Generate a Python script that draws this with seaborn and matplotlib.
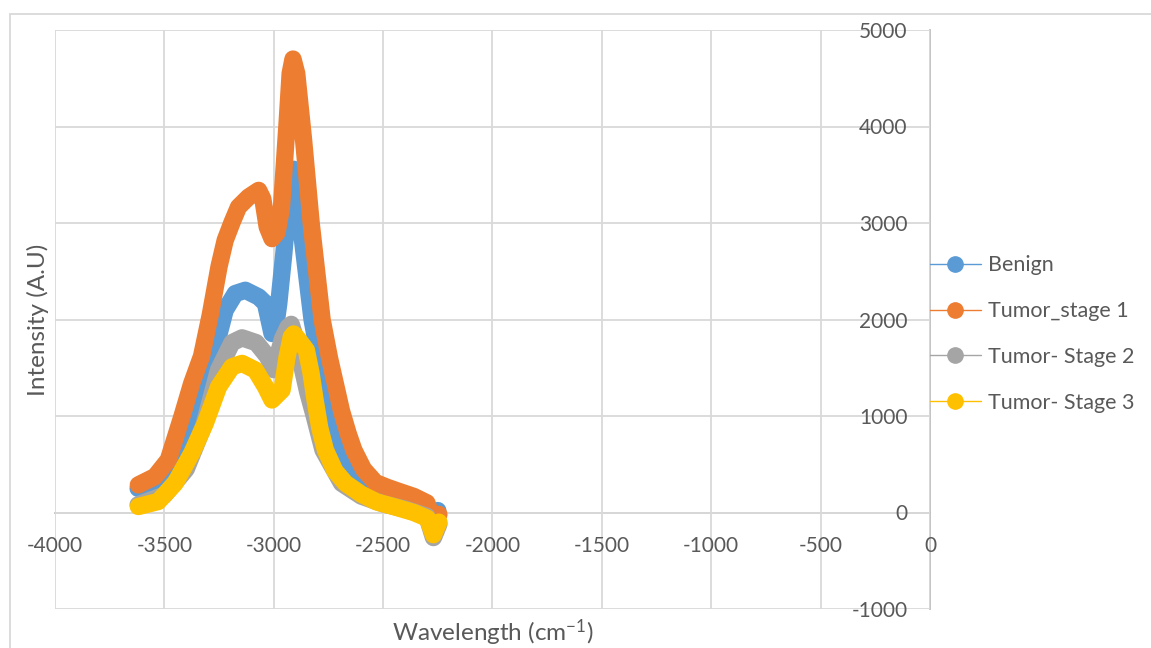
import pandas as pd
import matplotlib.pyplot as plt
import seaborn as sns
from matplotlib.lines import Line2D
from matplotlib.patches import Rectangle

series_names = ["Benign", "Tumor_stage 1", "Tumor- Stage 2", "Tumor- Stage 3"]
colors = ["#5b9bd5", "#ed7d31", "#a5a5a5", "#ffc000"]

# values (wavelength, intensity)
benign_x = [-3620, -3550, -3480, -3420, -3352, -3283, -3250, -3222, -3176, -3130, -3069,
            -3038, -3008, -2990, -2977, -2954, -2930, -2909, -2890, -2878, -2825, -2744,
            -2703, -2611, -2500, -2400, -2300, -2268, -2250]
benign_y = [250, 310, 470, 680, 924, 1476, 1850, 2097, 2269, 2303, 2234,
            2166, 1855, 1950, 2166, 2683, 3300, 3557, 3300, 3000, 2000, 1000,
            648, 303, 180, 120, 60, -120, 20]

stage1_x = [-3619, -3543, -3482, -3420, -3375, -3330, -3290, -3250, -3222, -3190, -3161,
            -3115, -3069, -3050, -3030, -3008, -2985, -2965, -2940, -2925, -2912, -2895,
            -2864, -2829, -2779, -2745, -2715, -2690, -2660, -2634, -2590, -2535, -2480,
            -2436, -2359, -2300, -2270, -2245]
stage1_y = [286, 372, 545, 993, 1338, 1620, 2050, 2550, 2821, 3010, 3166,
            3269, 3338, 3250, 2960, 2838, 2900, 3150, 4000, 4550, 4699, 4550,
            3869, 3000, 2000, 1600, 1300, 1050, 820, 648, 450, 310, 260,
            225, 166, 100, -90, -20]

stage2_x = [-3620, -3500, -3400, -3320, -3252, -3191, -3145, -3080, -3030, -3000, -2960,
            -2935, -2920, -2900, -2870, -2845, -2815, -2775, -2690, -2600, -2500, -2400,
            -2300, -2270, -2245]
stage2_y = [80, 180, 450, 900, 1480, 1760, 1810, 1760, 1620, 1480, 1800,
            1920, 1950, 1800, 1500, 1250, 1000, 648, 303, 170, 90, 35,
            -40, -260, -120]

stage3_x = [-3619, -3528, -3451, -3375, -3313, -3252, -3191, -3145, -3084, -3038, -3008,
            -2962, -2940, -2920, -2909, -2890, -2851, -2830, -2810, -2790, -2764, -2720,
            -2672, -2600, -2530, -2450, -2360, -2298, -2270, -2245]
stage3_y = [62, 114, 303, 614, 924, 1303, 1510, 1545, 1476, 1303, 1166,
            1269, 1600, 1820, 1850, 1800, 1683, 1450, 1150, 880, 648, 430,
            303, 190, 110, 60, 0, -60, -230, -100]

x_ticks = list(range(-4000, 1, 500))
y_ticks = list(range(-1000, 5001, 1000))

frames = []
for name, xs, ys in zip(series_names,
                        [benign_x, stage1_x, stage2_x, stage3_x],
                        [benign_y, stage1_y, stage2_y, stage3_y]):
    frames.append(pd.DataFrame({"wavelength": xs, "intensity": ys, "series": name}))
df = pd.concat(frames, ignore_index=True)

sns.set_theme(style="whitegrid")
plt.rcParams["font.family"] = ["Lato", "DejaVu Sans"]
plt.rcParams["mathtext.default"] = "regular"
plt.rcParams["axes.unicode_minus"] = False

grey_text = "#595959"
tick_fs = 15
legend_fs = 15.5
title_fs = 17.5

fig = plt.figure(figsize=(11.51, 6.48), dpi=100)
ax = fig.add_axes([55 / 1151, 1 - 609 / 648, 875 / 1151, 579 / 648])

sns.lineplot(data=df, x="wavelength", y="intensity", hue="series",
             hue_order=series_names, palette=colors, sort=False, estimator=None,
             legend=False, ax=ax, lw=12.5, solid_joinstyle="round",
             solid_capstyle="round")

ax.set_xlim(-4000, 0)
ax.set_ylim(-1000, 5000)
ax.set_xticks(x_ticks)
ax.set_yticks(y_ticks)
ax.grid(True, color="#d9d9d9", lw=1.3)
ax.set_facecolor("white")

for side in ["top", "right"]:
    ax.spines[side].set_visible(False)
ax.spines["left"].set_position(("data", 0))
ax.spines["bottom"].set_position(("data", 0))
for side in ["left", "bottom"]:
    ax.spines[side].set_color("#bfbfbf")
    ax.spines[side].set_linewidth(1.3)
    ax.spines[side].set_zorder(0.5)

ax.tick_params(axis="x", length=0, pad=17, labelsize=tick_fs, colors=grey_text)
ax.tick_params(axis="y", length=0, pad=16, labelsize=tick_fs, colors=grey_text)

ax.set_xlabel("Wavelength (cm$^{-1}$)", fontsize=title_fs, color=grey_text)
ax.set_ylabel("Intensity (A.U)", fontsize=title_fs, color=grey_text)
ax.xaxis.set_label_coords(0.5, -0.014)
ax.yaxis.set_label_coords(-0.007, 0.5)

handles = [Line2D([0], [0], color=c, lw=1, marker="o", markersize=11,
                  markeredgecolor=c, markerfacecolor=c) for c in colors]
fig.legend(handles, series_names, loc="center left",
           bbox_to_anchor=(930 / 1151, 1 - 334 / 648), frameon=False,
           fontsize=legend_fs, labelcolor=grey_text, handlelength=2.35,
           handletextpad=0.35, labelspacing=1.2, borderpad=0, borderaxespad=0)

fig.add_artist(Rectangle((10 / 1151, -0.1), 1.2, 1 - 14 / 648 + 0.1,
                         transform=fig.transFigure, fill=False,
                         edgecolor="#d9d9d9", lw=1.3, clip_on=False))

fig.savefig("out.png", dpi=100)
